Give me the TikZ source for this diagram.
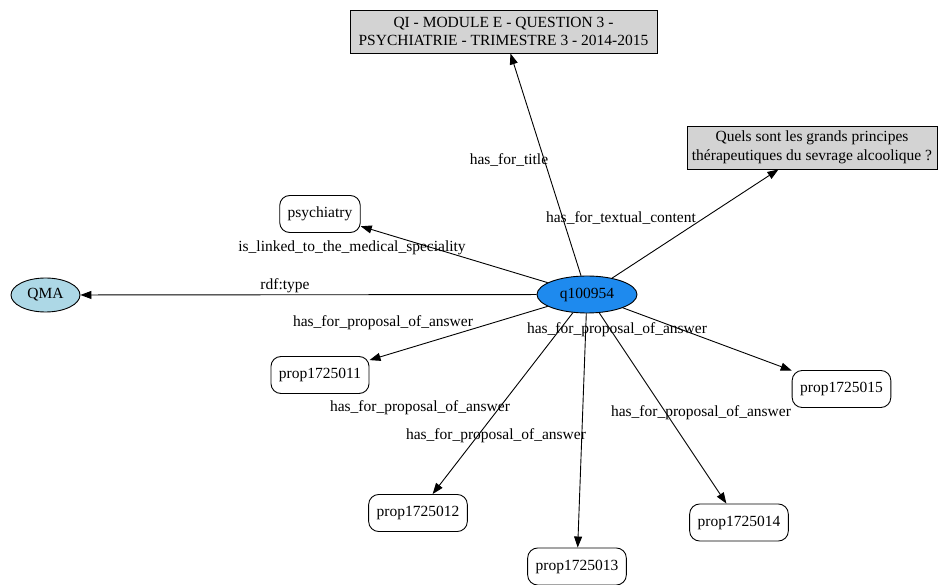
\documentclass[tikz,border=0pt]{standalone}
\usepackage{fontspec}
\setmainfont{Liberation Serif}
\usetikzlibrary{arrows.meta,shapes.geometric}
\definecolor{boxgray}{HTML}{D3D3D3}
\definecolor{qmablue}{HTML}{ADD8E6}
\definecolor{qblue}{HTML}{1E8AEE}
\tikzset{
  every node/.style={font=\fontsize{15.5pt}{18.6pt}\selectfont, text=black},
  litbox/.style={draw, line width=0.9pt, fill=boxgray, rectangle, align=center, inner sep=0pt},
  resbox/.style={draw, line width=0.9pt, rounded corners=10pt, rectangle, minimum height=37pt, inner xsep=8pt, inner ysep=0pt},
  classell/.style={draw, line width=0.9pt, ellipse, fill=qmablue, minimum width=69pt, minimum height=34pt, inner sep=0pt},
  mainell/.style={draw, line width=0.9pt, ellipse, fill=qblue, minimum width=100pt, minimum height=37pt, inner sep=0pt},
  rel/.style={draw, line width=0.9pt, -{Triangle[length=11pt,width=8pt]}},
  lbl/.style={inner sep=0pt}
}
\begin{document}
\begin{tikzpicture}[x=1pt,y=-1pt]
\useasboundingbox (0,0) rectangle (938,585);
% nodes
\node[mainell] (q) at (587,294.5) {q100954};
\node[litbox, minimum width=307pt, minimum height=43pt] (title) at (503.5,31.5) {QI - MODULE E - QUESTION 3 -\\ PSYCHIATRIE - TRIMESTRE 3 - 2014-2015};
\node[litbox, minimum width=250pt, minimum height=43pt] (text) at (812,147.5) {Quels sont les grands principes\\ thérapeutiques du sevrage alcoolique ?};
\node[resbox] (psy) at (320,214) {psychiatry};
\node[classell] (qma) at (45.5,295) {QMA};
\node[resbox] (p11) at (320,375) {prop1725011};
\node[resbox] (p15) at (841.5,389) {prop1725015};
\node[resbox] (p12) at (418,513) {prop1725012};
\node[resbox] (p13) at (577,566.5) {prop1725013};
\node[resbox] (p14) at (739,522.5) {prop1725014};
% edges
\draw[rel] (q) -- (title);
\draw[rel] (q) -- (text);
\draw[rel] (q) -- (psy);
\draw[rel] (q) -- (qma);
\draw[rel] (q) -- (p11);
\draw[rel] (q) -- (p15);
\draw[rel] (q) -- (p12);
\draw[rel] (q) -- (p13);
\draw[rel] (q) -- (p14);
% labels
\node[lbl] (l1) at (509,160) {has\_for\_title};
\node[lbl] (l2) at (621,218) {has\_for\_textual\_content};
\node[lbl] (l3) at (352,248) {is\_linked\_to\_the\_medical\_speciality};
\node[lbl] (l4) at (285,286) {rdf:type};
\node[lbl] (l5) at (383,323) {has\_for\_proposal\_of\_answer};
\node[lbl] (l6) at (617,330) {has\_for\_proposal\_of\_answer};
\node[lbl] (l7) at (420,408) {has\_for\_proposal\_of\_answer};
\node[lbl] (l8) at (496,436) {has\_for\_proposal\_of\_answer};
\node[lbl] (l9) at (701,413) {has\_for\_proposal\_of\_answer};
\end{tikzpicture}
\end{document}
